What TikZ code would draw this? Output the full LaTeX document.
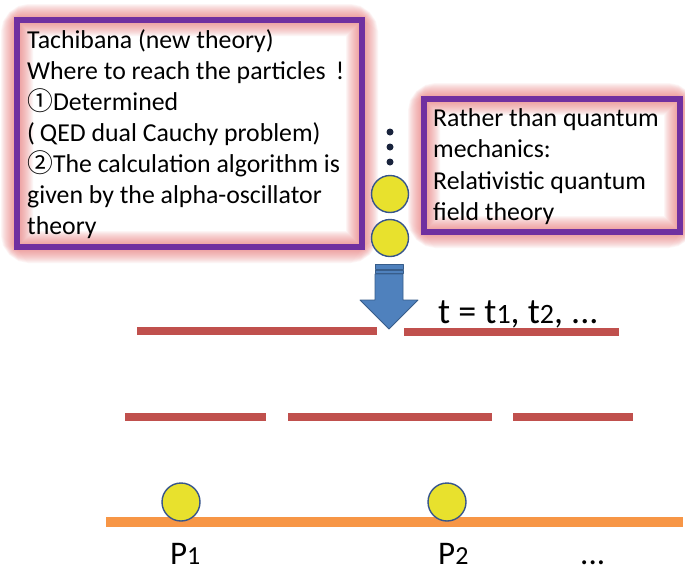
\documentclass[tikz,border=0pt]{standalone}
\usepackage{fontspec}
\setmainfont{Carlito}
\newfontfamily\jp{Noto Sans CJK JP}
\definecolor{purp}{RGB}{112,48,160}
\definecolor{glowc}{RGB}{235,115,115}
\definecolor{redl}{RGB}{192,80,77}
\definecolor{orl}{RGB}{247,150,70}
\definecolor{arrowb}{RGB}{79,129,189}
\definecolor{arrowd}{RGB}{56,93,138}
\definecolor{ballc}{RGB}{232,225,45}
\definecolor{balled}{RGB}{55,85,140}
\newcommand\glowrect[2]{%
  \fill[white] #1 rectangle #2;
  \foreach \w in {32,30,...,6}
    \draw[glowc, line width=\w pt, opacity=0.065, rounded corners=0.4*\w pt] #1 rectangle #2;
  \draw[purp, line width=6pt] #1 rectangle #2;}
\newcommand\smd[1]{{\fontsize{28}{28}\selectfont #1}}
\newcommand\smp[1]{{\fontsize{26}{26}\selectfont #1}}
\tikzset{
  txt/.style={inner sep=0pt, anchor=base west, font=\fontsize{25.8}{30}\selectfont},
  big/.style={inner sep=0pt, anchor=base west, font=\fontsize{33}{36}\selectfont},
  redbar/.style={redl, line width=8pt},
  ball/.style={circle, draw=balled, line width=1.4pt, fill=ballc, inner sep=0pt, minimum size=#1},
  ball/.default={37pt},
  dotc/.style={circle, fill={rgb,255:red,25;green,35;blue,60}, inner sep=0pt, minimum size=7pt},
  arrowpart/.style={fill=arrowb, draw=arrowd, line width=0.8pt, line join=round}
}
\begin{document}
\begin{tikzpicture}[x=1pt,y=-1pt]
\useasboundingbox (0,0) rectangle (685,573);
\fill[white] (0,0) rectangle (685,573);
% left box
\glowrect{(17,20)}{(362,247)}
\node[txt] (l1) at (27,48) {Tachibana (new theory)};
\node[txt] (l2) at (27,79) {Where to reach the particles\, !};
\node[txt] (l3) at (27,110) {{\jp ①}Determined};
\node[txt] (l4) at (27,141) {(\hspace{5pt}QED dual Cauchy problem)};
\node[txt] (l5) at (27,172) {{\jp ②}The calculation algorithm is};
\node[txt] (l6) at (27,203) {given by the alpha-oscillator};
\node[txt] (l7) at (27,234) {theory};
% right box
\glowrect{(424,99)}{(680,232)}
\node[txt] (r1) at (433,126) {Rather than quantum};
\node[txt] (r2) at (433,157) {mechanics:};
\node[txt] (r3) at (433,189) {Relativistic quantum};
\node[txt] (r4) at (433,220) {field theory};
% dots and balls
\node[dotc] (d1) at (390,132) {};
\node[dotc] (d2) at (390,147) {};
\node[dotc] (d3) at (390,162) {};
\node[ball] (b1) at (390,194) {};
\node[ball] (b2) at (390,238) {};
% arrow
\draw[arrowpart] (375,264) rectangle (403,269);
\draw[arrowpart] (375,270.5) rectangle (403,273);
\draw[arrowpart] (375,274) -- (403,274) -- (403,300) -- (418,300) -- (389,329) -- (360,300) -- (375,300) -- cycle;
% time text
\node[big, font=\fontsize{36}{38}\selectfont] (t) at (438,323) {t = t\smd{1}, t\smd{2}, ...};
% red bars
\draw[redbar] (137,331) -- (377,331);
\draw[redbar] (404,332) -- (619,332);
\draw[redbar] (125,417) -- (266,417);
\draw[redbar] (288,417) -- (492,417);
\draw[redbar] (513,417) -- (633,417);
% orange line and balls
\draw[orl, line width=10pt] (106,522) -- (683,522);
\node[ball=38pt] (p1b) at (181,502) {};
\node[ball=38pt] (p2b) at (447,502) {};
\node[big] (p1) at (170,564) {P\smp{1}};
\node[big] (p2) at (438,564) {P\smp{2}};
\node[big] (pd) at (580,564) {...};
\end{tikzpicture}
\end{document}
